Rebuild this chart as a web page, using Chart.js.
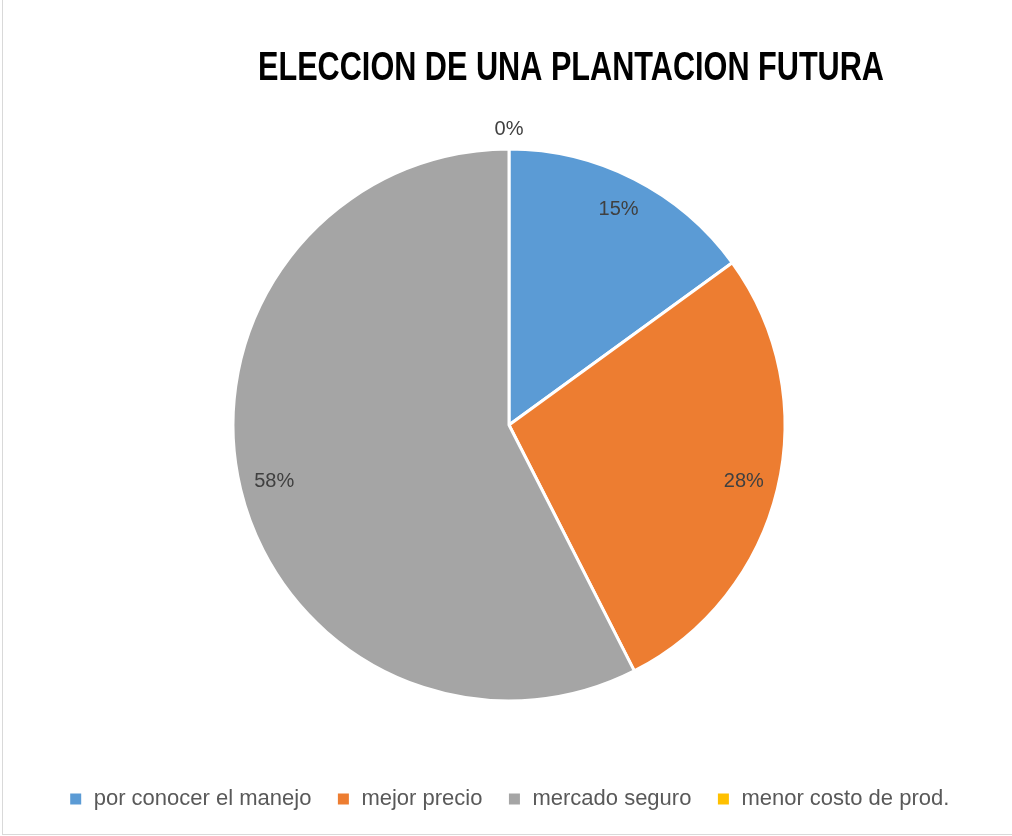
<!DOCTYPE html>
<html>
<head>
<meta charset="utf-8">
<script src="https://cdn.jsdelivr.net/npm/chart.js@4/dist/chart.umd.min.js"></script>
<style>
  html, body { margin: 0; padding: 0; background: #fff; }
  #wrap { position: relative; width: 1012px; height: 836px; overflow: hidden; }
  #c { position: absolute; left: 0; top: 0; }
  #bl { position: absolute; left: 2px; top: 0; width: 1px; height: 835px; background: #d9d9d9; }
  #bb { position: absolute; left: 2px; top: 834px; width: 1010px; height: 1px; background: #d9d9d9; }
</style>
</head>
<body>
<div id="wrap">
  <canvas id="c" width="1012" height="836"></canvas>
  <div id="bl"></div>
  <div id="bb"></div>
</div>
<script>
const categories = ["por conocer el manejo", "mejor precio", "mercado seguro", "menor costo de prod."];
const values = [15, 27.5, 57.5, 0];
const colors = ["#5B9BD5", "#ED7D31", "#A5A5A5", "#FFC000"];
const chartTitle = "ELECCION DE UNA PLANTACION FUTURA";

const FONT = "'Liberation Sans', Arial, sans-serif";

const titlePlugin = {
  id: 'customTitle',
  afterDraw(chart) {
    const ctx = chart.ctx;
    ctx.save();
    ctx.fillStyle = '#000';
    ctx.font = "bold 40px " + FONT;
    ctx.textBaseline = 'alphabetic';
    ctx.textAlign = 'left';
    const w = ctx.measureText(chartTitle).width;
    const target = 626;
    ctx.translate(258, 80);
    ctx.scale(target / w, 1);
    ctx.fillText(chartTitle, 0, 0);
    ctx.restore();
  }
};

const labelPlugin = {
  id: 'pctLabels',
  afterDatasetsDraw(chart) {
    const ctx = chart.ctx;
    const meta = chart.getDatasetMeta(0);
    const total = values.reduce((a, b) => a + b, 0);
    ctx.save();
    ctx.fillStyle = '#404040';
    ctx.font = "20px " + FONT;
    ctx.textAlign = 'center';
    ctx.textBaseline = 'middle';
    meta.data.forEach((arc, i) => {
      const p = arc.getProps(['x', 'y', 'startAngle', 'endAngle', 'outerRadius'], true);
      const mid = (p.startAngle + p.endAngle) / 2;
      const v = values[i];
      const r = v > 0 ? p.outerRadius * 0.875 : p.outerRadius + 20;
      const x = p.x + Math.cos(mid) * r;
      const y = p.y + Math.sin(mid) * r;
      ctx.fillText(Math.round(v * 100 / total + 1e-9) + '%', x, y);
    });
    ctx.restore();
  }
};

new Chart(document.getElementById('c'), {
  type: 'pie',
  data: {
    labels: categories,
    datasets: [{
      data: values,
      backgroundColor: colors,
      borderColor: '#ffffff',
      borderWidth: 3
    }]
  },
  options: {
    responsive: false,
    animation: false,
    radius: 276,
    layout: { padding: { top: 87, left: 6, right: 0, bottom: 16 } },
    plugins: {
      title: { display: false },
      tooltip: { enabled: false },
      legend: {
        display: true,
        position: 'bottom',
        labels: {
          boxWidth: 14,
          boxHeight: 14,
          padding: 25,
          color: '#595959',
          font: { family: FONT, size: 22 }
        }
      }
    }
  },
  plugins: [titlePlugin, labelPlugin]
});
</script>
</body>
</html>
